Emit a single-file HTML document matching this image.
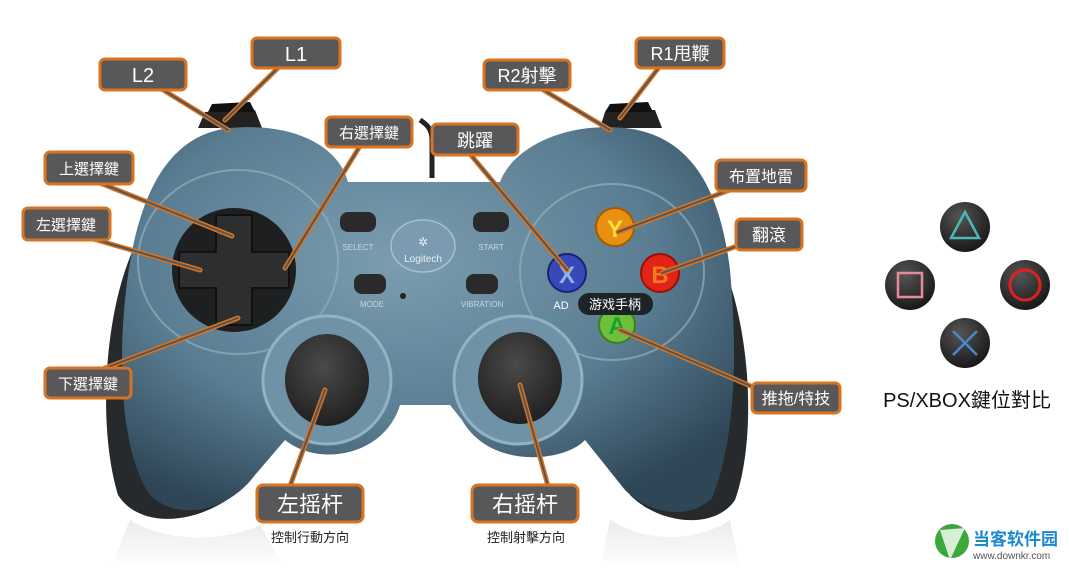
<!DOCTYPE html>
<html><head><meta charset="utf-8"><style>
html,body{margin:0;padding:0;background:#fff;}
body{width:1069px;height:569px;overflow:hidden;font-family:"Liberation Sans","Noto Sans CJK TC",sans-serif;}
</style></head><body>
<svg width="1069" height="569" viewBox="0 0 1069 569" xmlns="http://www.w3.org/2000/svg" font-family="Liberation Sans, Noto Sans CJK TC, sans-serif">
<defs>
<radialGradient id="bg" cx="0.45" cy="0.35" r="0.7"><stop offset="0" stop-color="#7c9db0"/><stop offset="0.6" stop-color="#5a7d92"/><stop offset="1" stop-color="#2e4656"/></radialGradient>
<radialGradient id="st" cx="0.45" cy="0.35" r="0.7"><stop offset="0" stop-color="#4a4a4a"/><stop offset="1" stop-color="#1e1e1e"/></radialGradient>
<radialGradient id="ps" cx="0.4" cy="0.3" r="0.75"><stop offset="0" stop-color="#555"/><stop offset="1" stop-color="#151515"/></radialGradient>
<linearGradient id="refl" x1="0" y1="0" x2="0" y2="1"><stop offset="0" stop-color="#ddd"/><stop offset="1" stop-color="#fff"/></linearGradient>
</defs>
<path d="M130,520 C170,545 230,540 260,525 L285,569 L110,569 Z" fill="url(#refl)" opacity="0.6"/>
<path d="M610,520 C650,545 700,540 730,520 L740,569 L600,569 Z" fill="url(#refl)" opacity="0.6"/>
<path d="M198,128 L205,112 L255,110 L262,128 Z" fill="#222"/>
<path d="M208,112 L212,104 L250,102 L255,112 Z" fill="#111"/>
<path d="M600,128 L605,112 L655,110 L662,128 Z" fill="#222"/>
<path d="M605,112 L610,104 L648,102 L653,112 Z" fill="#111"/>
<path d="M432,178 L432,140 C432,130 428,125 420,120" stroke="#222" stroke-width="5" fill="none"/>
<path d="M150,220 C105,280 95,420 118,495 C140,530 200,525 240,490 L200,300 Z" fill="#262a2c"/>
<path d="M700,220 C750,290 760,430 735,500 C715,530 660,525 630,495 L660,300 Z" fill="#262a2c"/>
<path d="M230,128 C300,122 340,150 348,182 L500,182 C512,150 560,122 625,128 C700,136 722,205 730,270 C738,360 735,440 712,498 C690,520 650,515 625,490 L585,440 C565,462 490,470 462,420 L450,405 L400,405 C385,455 320,468 285,440 L255,475 C225,515 175,520 150,495 C122,455 118,370 125,300 C135,200 165,135 230,128 Z" fill="url(#bg)"/>
<ellipse cx="238" cy="262" rx="100" ry="92" fill="none" stroke="#8fb0c2" stroke-width="2" opacity="0.7"/>
<ellipse cx="612" cy="272" rx="92" ry="88" fill="none" stroke="#8fb0c2" stroke-width="2" opacity="0.7"/>
<circle cx="327" cy="380" r="64" fill="#6f92a7" stroke="#93b3c5" stroke-width="3"/>
<circle cx="518" cy="380" r="64" fill="#6f92a7" stroke="#93b3c5" stroke-width="3"/>
<ellipse cx="327" cy="380" rx="42" ry="46" fill="url(#st)"/>
<ellipse cx="520" cy="378" rx="42" ry="46" fill="url(#st)"/>
<circle cx="234" cy="270" r="62" fill="#1d1f20"/>
<path d="M216,215 h36 v37 h37 v36 h-37 v37 h-36 v-37 h-37 v-36 h37 z" fill="#2c2e30" stroke="#111" stroke-width="2"/>
<rect x="340" y="212" width="36" height="20" rx="8" fill="#2a2a2a"/>
<rect x="473" y="212" width="36" height="20" rx="8" fill="#2a2a2a"/>
<rect x="354" y="274" width="32" height="20" rx="8" fill="#2a2a2a"/>
<rect x="466" y="274" width="32" height="20" rx="8" fill="#2a2a2a"/>
<circle cx="403" cy="296" r="3" fill="#222"/>
<ellipse cx="423" cy="246" rx="32" ry="26" fill="#7a9bb0" stroke="#a6c0cf" stroke-width="1.5"/>
<text x="423" y="262" font-size="10" fill="#e8f0f4" text-anchor="middle">Logitech</text>
<text x="423" y="246" font-size="12" fill="#e8f0f4" text-anchor="middle">✲</text>
<text x="358" y="250" font-size="8" fill="#c6d6df" text-anchor="middle">SELECT</text>
<text x="491" y="250" font-size="8" fill="#c6d6df" text-anchor="middle">START</text>
<text x="372" y="307" font-size="8" fill="#c6d6df" text-anchor="middle">MODE</text>
<text x="482" y="307" font-size="8" fill="#c6d6df" text-anchor="middle">VIBRATION</text>
<circle cx="615" cy="227" r="19" fill="#e8900f" stroke="#a85a00" stroke-width="2"/><text x="615" y="237" font-size="24" font-weight="bold" fill="#ffe23a" text-anchor="middle">Y</text>
<circle cx="660" cy="273" r="19" fill="#e02418" stroke="#9a1008" stroke-width="2"/><text x="660" y="283" font-size="24" font-weight="bold" fill="#f07a20" text-anchor="middle">B</text>
<circle cx="567" cy="273" r="19" fill="#3848b8" stroke="#1a2470" stroke-width="2"/><text x="567" y="283" font-size="24" font-weight="bold" fill="#8fb4e8" text-anchor="middle">X</text>
<circle cx="617" cy="325" r="18" fill="#6cc03a" stroke="#3c8020" stroke-width="2"/><text x="617" y="334" font-size="24" font-weight="bold" fill="#18a030" text-anchor="middle">A</text>
<text x="561" y="309" font-size="11" fill="#fff" text-anchor="middle">AD</text>
<rect x="578" y="293" width="75" height="22" rx="11" fill="#1e2326"/>
<text x="615" y="309" font-size="13" fill="#fff" text-anchor="middle">游戏手柄</text>
<g stroke-linecap="round" fill="none">
<g stroke="#d9731f" stroke-width="5">
<path d="M160,88 L228,130"/><path d="M280,66 L225,120"/><path d="M360,146 L285,268"/>
<path d="M100,183 L232,236"/><path d="M90,238 L200,270"/><path d="M100,370 L238,318"/>
<path d="M540,88 L610,130"/><path d="M660,66 L620,118"/><path d="M470,154 L567,270"/>
<path d="M735,188 L618,232"/><path d="M740,245 L662,273"/><path d="M760,390 L620,330"/>
<path d="M290,486 L325,390"/><path d="M548,486 L520,385"/>
</g>
<g stroke="#555" stroke-width="2">
<path d="M160,88 L228,130"/><path d="M280,66 L225,120"/><path d="M360,146 L285,268"/>
<path d="M100,183 L232,236"/><path d="M90,238 L200,270"/><path d="M100,370 L238,318"/>
<path d="M540,88 L610,130"/><path d="M660,66 L620,118"/><path d="M470,154 L567,270"/>
<path d="M735,188 L618,232"/><path d="M740,245 L662,273"/><path d="M760,390 L620,330"/>
<path d="M290,486 L325,390"/><path d="M548,486 L520,385"/>
</g></g>
<g fill="#58585a" stroke="#d9731f" stroke-width="3">
<rect x="100" y="59" width="86" height="31" rx="5"/>
<rect x="252" y="38" width="88" height="30" rx="5"/>
<rect x="326" y="117" width="86" height="30" rx="5"/>
<rect x="45" y="152" width="88" height="32" rx="5"/>
<rect x="23" y="208" width="87" height="32" rx="5"/>
<rect x="45" y="368" width="86" height="30" rx="5"/>
<rect x="484" y="60" width="86" height="30" rx="5"/>
<rect x="636" y="38" width="88" height="30" rx="5"/>
<rect x="432" y="124" width="86" height="31" rx="5"/>
<rect x="716" y="160" width="90" height="31" rx="5"/>
<rect x="736" y="219" width="66" height="31" rx="5"/>
<rect x="752" y="383" width="88" height="30" rx="5"/>
<rect x="257" y="485" width="106" height="37" rx="6"/>
<rect x="472" y="485" width="106" height="37" rx="6"/>
</g>
<g fill="#fff" text-anchor="middle">
<text x="143" y="82" font-size="20">L2</text>
<text x="296" y="61" font-size="20">L1</text>
<text x="369" y="138" font-size="15">右選擇鍵</text>
<text x="89" y="174" font-size="15">上選擇鍵</text>
<text x="66" y="230" font-size="15">左選擇鍵</text>
<text x="88" y="389" font-size="15">下選擇鍵</text>
<text x="527" y="82" font-size="18">R2射擊</text>
<text x="680" y="60" font-size="18">R1甩鞭</text>
<text x="475" y="147" font-size="18">跳躍</text>
<text x="761" y="182" font-size="16">布置地雷</text>
<text x="769" y="241" font-size="17">翻滾</text>
<text x="796" y="404" font-size="16">推拖/特技</text>
<text x="310" y="512" font-size="22">左摇杆</text>
<text x="525" y="512" font-size="22">右摇杆</text>
</g>
<text x="310" y="542" font-size="13" fill="#222" text-anchor="middle">控制行動方向</text>
<text x="526" y="542" font-size="13" fill="#222" text-anchor="middle">控制射擊方向</text>
<circle cx="965" cy="227" r="25" fill="url(#ps)"/>
<path d="M965,212 L979,238 L951,238 Z" fill="none" stroke="#4bb8b8" stroke-width="2.5"/>
<circle cx="910" cy="285" r="25" fill="url(#ps)"/>
<rect x="898" y="273" width="24" height="24" fill="none" stroke="#e88a9a" stroke-width="2.5"/>
<circle cx="1025" cy="285" r="25" fill="url(#ps)"/>
<circle cx="1025" cy="285" r="15" fill="none" stroke="#e02020" stroke-width="3"/>
<circle cx="965" cy="343" r="25" fill="url(#ps)"/>
<path d="M953,331 L977,355 M977,331 L953,355" stroke="#4a88cc" stroke-width="2.5"/>
<text x="967" y="407" font-size="20" fill="#111" text-anchor="middle">PS/XBOX鍵位對比</text>
<circle cx="952" cy="541" r="17" fill="#3aa83a"/>
<path d="M940,530 L950,560 L965,528 Z" fill="#fff" opacity="0.8"/>
<text x="973" y="545" font-size="17" font-weight="bold" fill="#1a8ad0">当客软件园</text>
<text x="973" y="559" font-size="10" fill="#555">www.downkr.com</text>
</svg>
</body></html>
